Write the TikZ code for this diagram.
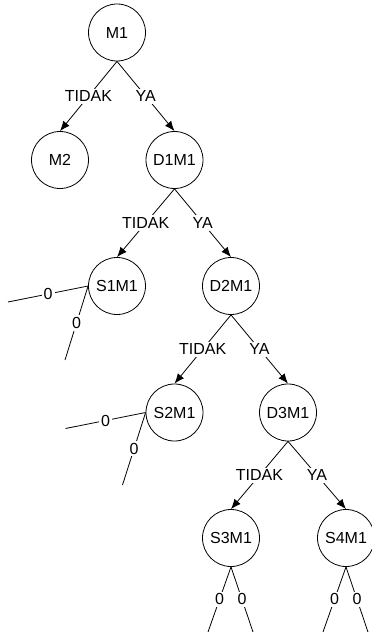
\documentclass[tikz,border=0pt]{standalone}
\usepackage{fontspec}
\setmainfont{Liberation Sans}
\usetikzlibrary{arrows.meta}
\tikzset{
  keadaan/.style={draw, circle, minimum size=42.75pt, inner sep=0pt, line width=0.6pt, font=\fontsize{12}{14}\selectfont},
  cabang/.style={line width=0.6pt, -{Latex[length=7.5pt,width=6pt]}},
  ujung/.style={line width=0.6pt},
  ket/.style={fill=white, inner sep=1.5pt, font=\fontsize{12}{14}\selectfont}
}
\begin{document}
\begin{tikzpicture}[x=0.75pt,y=-0.75pt]
  \useasboundingbox (0,0) rectangle (371,638);
  \node[keadaan] (m1) at (117,32.5) {M1};
  \node[keadaan] (m2) at (60,160) {M2};
  \node[keadaan] (d1m1) at (174.5,160) {D1M1};
  \node[keadaan] (s1m1) at (117,286) {S1M1};
  \node[keadaan] (d2m1) at (231,286) {D2M1};
  \node[keadaan] (s2m1) at (174.5,412.5) {S2M1};
  \node[keadaan] (d3m1) at (288,412.5) {D3M1};
  \node[keadaan] (s3m1) at (231,538) {S3M1};
  \node[keadaan] (s4m1) at (346,538) {S4M1};

  \draw[cabang] (m1.south) -- node[ket] {TIDAK} (m2.north);
  \draw[cabang] (m1.south) -- node[ket] {YA} (d1m1.north);
  \draw[cabang] (d1m1.south) -- node[ket] {TIDAK} (s1m1.north);
  \draw[cabang] (d1m1.south) -- node[ket] {YA} (d2m1.north);
  \draw[cabang] (d2m1.south) -- node[ket] {TIDAK} (s2m1.north);
  \draw[cabang] (d2m1.south) -- node[ket] {YA} (d3m1.north);
  \draw[cabang] (d3m1.south) -- node[ket] {TIDAK} (s3m1.north);
  \draw[cabang] (d3m1.south) -- node[ket] {YA} (s4m1.north);

  % ujung cabang yang terbuka
  \coordinate (s1a) at (8,302);
  \coordinate (s1b) at (65,360);
  \coordinate (s2a) at (65.5,428.5);
  \coordinate (s2b) at (122.5,485);
  \coordinate (s3a) at (208,632);
  \coordinate (s3b) at (253,632);
  \coordinate (s4a) at (323,632);
  \coordinate (s4b) at (368,632);

  \draw[ujung] (s1m1.west) -- node[ket] {0} (s1a);
  \draw[ujung] (s1m1.west) -- node[ket] {0} (s1b);
  \draw[ujung] (s2m1.west) -- node[ket] {0} (s2a);
  \draw[ujung] (s2m1.west) -- node[ket] {0} (s2b);
  \draw[ujung] (s3m1.south) -- node[ket] {0} (s3a);
  \draw[ujung] (s3m1.south) -- node[ket] {0} (s3b);
  \draw[ujung] (s4m1.south) -- node[ket] {0} (s4a);
  \draw[ujung] (s4m1.south) -- node[ket] {0} (s4b);
\end{tikzpicture}
\end{document}
